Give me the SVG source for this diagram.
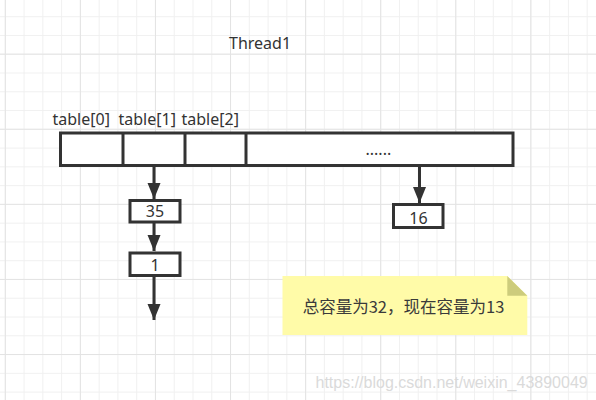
<svg xmlns="http://www.w3.org/2000/svg" width="596" height="400" viewBox="0 0 596 400">
  <defs>
    <pattern id="minor" patternUnits="userSpaceOnUse" x="4.8" y="16.2" width="18.77" height="18.77">
      <path d="M0.5 0V18.77M0 0.5H18.77" stroke="#f0f0f0" stroke-width="1" fill="none"/>
    </pattern>
    <pattern id="major" patternUnits="userSpaceOnUse" x="4.8" y="-21.4" width="75.08" height="75.08">
      <path d="M0.5 0V75.08M0 0.5H75.08" stroke="#e3e3e3" stroke-width="1" fill="none"/>
    </pattern>
    <marker id="arrow" markerUnits="userSpaceOnUse" markerWidth="18" markerHeight="14" refX="16" refY="6.5" orient="auto" viewBox="0 0 18 13">
      <path d="M0 0L16 6.5L0 13Z" fill="#333333"/>
    </marker>
    <style>
      .box { fill: #ffffff; stroke: #333333; stroke-width: 3; }
      .lbl { font-family: "Noto Sans", "Open Sans", sans-serif; font-size: 16px; fill: #333333; }
      .num { font-family: "Noto Sans", "Open Sans", sans-serif; font-size: 16px; fill: #333333; text-anchor: middle; }
      .edge { stroke: #333333; stroke-width: 3; fill: none; marker-end: url(#arrow); }
    </style>
  </defs>
  <rect width="596" height="400" fill="#ffffff"/>
  <rect width="596" height="400" fill="url(#minor)"/>
  <rect width="596" height="400" fill="url(#major)"/>

  <g id="title">
    <text class="lbl" x="229" y="48.5">Thread1</text>
  </g>

  <g id="table">
    <rect class="box" x="60.5" y="133" width="452.5" height="32.5"/>
    <line x1="123" y1="133" x2="123" y2="165.5" stroke="#333333" stroke-width="3"/>
    <line x1="185" y1="133" x2="185" y2="165.5" stroke="#333333" stroke-width="3"/>
    <line x1="246" y1="133" x2="246" y2="165.5" stroke="#333333" stroke-width="3"/>
    <text class="lbl" x="52.5" y="125">table[0]</text>
    <text class="lbl" x="118.5" y="125">table[1]</text>
    <text class="lbl" x="181.5" y="125">table[2]</text>
    <text class="lbl" x="365.5" y="155">......</text>
  </g>

  <g id="node35">
    <rect class="box" x="130" y="200.5" width="50" height="21.5"/>
    <text class="num" x="155" y="216.7">35</text>
  </g>
  <g id="node1">
    <rect class="box" x="130" y="253" width="50" height="22.5"/>
    <text class="num" x="155" y="270.7">1</text>
  </g>
  <g id="node16">
    <rect class="box" x="393.5" y="204.5" width="49.5" height="23"/>
    <text class="num" x="418.5" y="223.5">16</text>
  </g>

  <g id="connectors">
    <line class="edge" x1="154" y1="166" x2="154" y2="199"/>
    <line class="edge" x1="154" y1="222" x2="154" y2="251"/>
    <line class="edge" x1="154" y1="276" x2="154" y2="320"/>
    <line class="edge" x1="419.5" y1="166" x2="419.5" y2="203"/>
  </g>

  <g id="note">
    <path d="M282.5 276H507.3L527.3 295.7V335H282.5Z" fill="#fffba8"/>
    <path d="M507.3 276V295.7H527.3Z" fill="#cdcc7c"/>
    <text x="403.5" y="312.5" text-anchor="middle" font-family="'Noto Sans CJK SC', sans-serif" font-size="16.5" fill="#3a3a3a">总容量为32，现在容量为13</text>
  </g>

  <text x="315.5" y="388.3" font-family="'Liberation Sans', Arial, sans-serif" font-size="16" fill="#dadada">https://blog.csdn.net/weixin_43890049</text>
</svg>
